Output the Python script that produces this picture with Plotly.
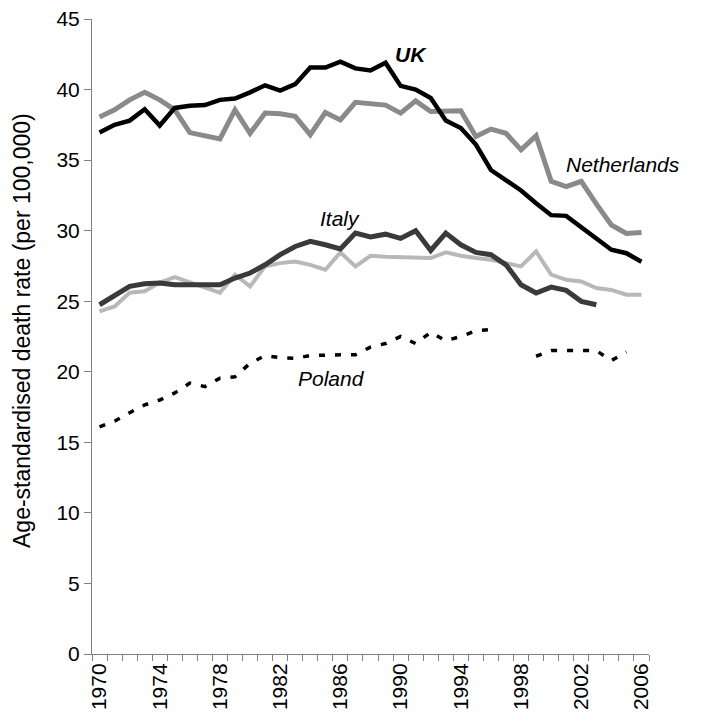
import plotly.graph_objects as go

years = list(range(1970, 2007))

uk = [36.95, 37.5, 37.8, 38.6, 37.45, 38.7, 38.85, 38.9, 39.27, 39.36,
      39.8, 40.3, 39.93, 40.38, 41.56, 41.56, 41.98, 41.5, 41.35, 41.9,
      40.26, 40.0, 39.4, 37.8, 37.27, 36.1, 34.3, 33.6, 32.85, 31.95,
      31.1, 31.05, 30.25, 29.5, 28.65, 28.4, 27.8]

netherlands = [38.05, 38.56, 39.27, 39.8, 39.27, 38.56, 36.95, 36.72, 36.5, 38.56,
               36.9, 38.33, 38.28, 38.1, 36.8, 38.37, 37.85, 39.1, 39.0, 38.9,
               38.33, 39.2, 38.45, 38.45, 38.5, 36.67, 37.2, 36.9, 35.73, 36.72,
               33.5, 33.13, 33.5, 31.9, 30.4, 29.8, 29.87]

italy = [24.75, 25.4, 26.05, 26.24, 26.29, 26.17, 26.17, 26.1, 26.17, 26.64,
         27.0, 27.58, 28.3, 28.88, 29.24, 29.0, 28.7, 29.83, 29.55, 29.75,
         29.45, 30.0, 28.6, 29.83, 29.0, 28.46, 28.3, 27.58, 26.17, 25.58,
         26.0, 25.77, 24.99, 24.75, None, None, None]

france = [24.28, 24.63, 25.6, 25.7, 26.33, 26.71, 26.33, 26.0, 25.6, 26.88,
          26.05, 27.47, 27.7, 27.82, 27.58, 27.23, 28.46, 27.47, 28.22, 28.15,
          28.1, 28.1, 28.06, 28.46, 28.22, 28.06, 27.94, 27.7, 27.47, 28.53,
          26.88, 26.52, 26.4, 25.93, 25.8, 25.46, 25.46]

poland = [16.1, 16.5, 17.1, 17.65, 18.0, 18.5, 19.2, 18.95, 19.55, 19.65,
          20.6, 21.15, 21.0, 20.95, 21.15, 21.2, 21.2, 21.2, 21.75, 22.0,
          22.5, 22.0, 22.8, 22.2, 22.5, 22.9, 23.0, None, None, 21.1,
          21.5, 21.5, 21.5, 21.5, 20.8, 21.4, None]

y_title = "Age-standardised death rate (per 100,000)"

FONT = "Liberation Sans, Arial, sans-serif"

fig = go.Figure()
fig.add_trace(go.Scatter(x=years, y=france, mode="lines",
                         line=dict(color="#b8b8b8", width=4), connectgaps=False))
fig.add_trace(go.Scatter(x=years, y=italy, mode="lines",
                         line=dict(color="#3a3a3a", width=5), connectgaps=False))
fig.add_trace(go.Scatter(x=years, y=netherlands, mode="lines",
                         line=dict(color="#8a8a8a", width=5)))
fig.add_trace(go.Scatter(x=years, y=uk, mode="lines",
                         line=dict(color="#000000", width=4.5)))
fig.add_trace(go.Scatter(x=years, y=poland, mode="lines",
                         line=dict(color="#000000", width=3.5, dash="6px,10px"),
                         connectgaps=False))

labels = [
    ("<b><i>UK</i></b>", 1990.7, 42.5),
    ("<i>Netherlands</i>", 2004.8, 34.7),
    ("<i>Italy</i>", 1986.0, 30.86),
    ("<i>France</i>", 2007.9, 25.2),
    ("<i>Poland</i>", 1985.4, 19.5),
]
for txt, xx, yy in labels:
    fig.add_annotation(x=xx, y=yy, xref="x", yref="y", text=txt, showarrow=False,
                       font=dict(family=FONT, size=21, color="#000000"),
                       xanchor="center", yanchor="middle")

fig.add_annotation(x=-0.126, y=0.51, xref="paper", yref="paper", text=y_title,
                   textangle=-90, showarrow=False, xanchor="center", yanchor="middle",
                   font=dict(family=FONT, size=23, color="#000000"))

boundaries = [y - 0.5 for y in years] + [years[-1] + 0.5]

fig.update_layout(
    width=706, height=712,
    margin=dict(l=84, r=65, t=11, b=65.5, pad=0),
    paper_bgcolor="white", plot_bgcolor="white",
    showlegend=False,
    font=dict(family=FONT, size=21, color="#000000"),
    xaxis=dict(
        range=[1969.5, 2006.5], automargin=False,
        tickvals=list(range(1970, 2007, 4)),
        ticktext=[str(v) for v in range(1970, 2007, 4)],
        tickangle=-90, ticks="", showgrid=False, zeroline=False,
        showline=True, linecolor="#808080", linewidth=1,
        tickfont=dict(family=FONT, size=21), ticklabeloverflow="allow",
        minor=dict(tickvals=boundaries, ticks="outside", ticklen=6,
                   tickcolor="#808080", tickwidth=1, showgrid=False),
    ),
    yaxis=dict(
        range=[0, 45], dtick=5, ticks="outside", ticklen=7, automargin=False,
        tickcolor="#808080", tickwidth=1,
        showgrid=False, zeroline=False,
        showline=True, linecolor="#808080", linewidth=1,
        tickfont=dict(family=FONT, size=21), ticklabeloverflow="allow",
    ),
)

fig.write_html("out.html")
